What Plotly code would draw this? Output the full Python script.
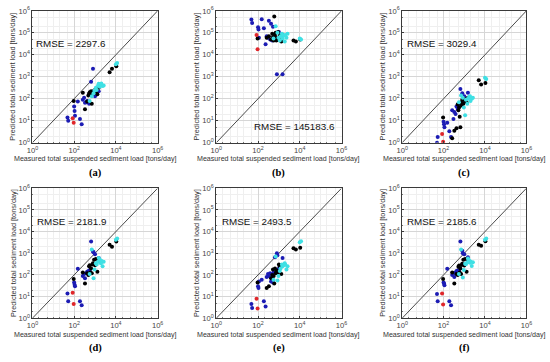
import plotly.graph_objects as go

# ---------------- data (tons/day) ----------------
panel_labels = ["(a)", "(b)", "(c)", "(d)", "(e)", "(f)"]
rmse_values = ["2297.6", "145183.6", "3029.4", "2181.9", "2493.5", "2185.6"]
x_tick_labels = ["10<sup>0</sup>", "10<sup>2</sup>", "10<sup>4</sup>", "10<sup>6</sup>"]
y_tick_labels = ["10<sup>0</sup>", "10<sup>1</sup>", "10<sup>2</sup>", "10<sup>3</sup>",
                 "10<sup>4</sup>", "10<sup>5</sup>", "10<sup>6</sup>"]

# measured loads (shared by all panels)
red_meas = [85, 95]
blue_meas = [48, 52, 100, 105, 110, 150, 190, 230, 260, 300, 330, 380, 420, 480, 520,
             560, 650, 800, 850, 1000, 1500]
black_meas = [95, 260, 330, 420, 480, 520, 560, 600, 650, 700, 750, 800, 900, 1000,
              1100, 1300, 1500, 5000, 6500, 10500]
cyan_meas = [550, 700, 850, 950, 1100, 1200, 1400, 1500, 1700, 1900, 2000, 2300, 2600,
             10000, 11500]

# predicted loads, panel (a)
red_a = [13, 8]
blue_a = [14, 10, 45, 28, 17, 75, 12, 7, 90, 110, 65, 70, 80, 70, 60, 150, 600, 2300, 180, 130, 220]
black_a = [80, 190, 33, 75, 140, 170, 200, 180, 220, 60, 190, 210, 230, 250, 200, 160, 320, 1600, 2300, 3000]
cyan_a = [80, 130, 180, 240, 320, 250, 400, 480, 350, 450, 500, 380, 400, 3700, 4200]

# panel (b)
red_b = [80000, 18000]
blue_b = [400000, 280000, 180000, 140000, 60000, 420000, 160000, 30000, 70000, 60000, 350000,
          50000, 260000, 45000, 190000, 60000, 60000, 1300, 50000, 110000, 1300]
black_b = [55000, 60000, 70000, 50000, 90000, 65000, 45000, 550000, 80000, 100000, 45000, 60000,
           110000, 50000, 75000, 40000, 80000, 45000, 40000, 50000]
cyan_b = [55000, 200000, 100000, 60000, 45000, 70000, 90000, 55000, 75000, 40000, 80000, 60000,
          90000, 55000, 50000]

# panel (c)
red_c = [2.5, 1.1]
blue_c = [1.0, 1.8, 9, 7, 5, 8, 3.3, 1.8, 30, 12, 25, 20, 45, 35, 60, 50, 280, 180, 80, 130, 190]
black_c = [14, 1.6, 3.5, 4.5, 55, 30, 40, 15, 5, 70, 50, 90, 60, 100, 80, 70, 110, 700, 450, 520]
cyan_c = [70, 140, 110, 40, 18, 90, 60, 100, 120, 130, 80, 100, 110, 900, 800]

# panel (d)
red_d = [15, 4.5]
blue_d = [14, 6, 45, 35, 30, 190, 6, 4, 90, 110, 70, 120, 140, 150, 110, 170, 3500, 1200, 1100, 900, 600]
black_d = [65, 130, 40, 120, 100, 250, 280, 130, 200, 120, 300, 350, 500, 280, 550, 140, 450, 2500, 2000, 3500]
cyan_d = [110, 1500, 70, 180, 350, 300, 400, 600, 500, 350, 450, 250, 400, 4200, 4800]

# panel (e)
red_e = [8, 2.8]
blue_e = [4.5, 3, 30, 25, 50, 60, 6, 3.5, 80, 110, 90, 120, 50, 80, 45, 130, 650, 1000, 800, 200, 600]
black_e = [45, 25, 30, 70, 100, 180, 90, 40, 200, 120, 150, 160, 130, 300, 250, 110, 280, 1700, 1500, 1800]
cyan_e = [60, 700, 55, 90, 150, 200, 300, 250, 280, 350, 300, 180, 250, 3200, 3600]

# panel (f)
red_f = [14, 4.3]
blue_f = [13, 6, 45, 40, 33, 190, 6, 4, 100, 120, 80, 130, 150, 160, 120, 170, 3500, 1300, 1000, 900, 650]
black_f = [65, 130, 40, 110, 100, 240, 270, 130, 200, 110, 290, 330, 500, 270, 540, 140, 420, 2500, 2200, 3600]
cyan_f = [110, 1500, 75, 170, 330, 310, 380, 580, 480, 360, 420, 260, 380, 4200, 4800]

panels_pred = [
    (red_a, blue_a, black_a, cyan_a),
    (red_b, blue_b, black_b, cyan_b),
    (red_c, blue_c, black_c, cyan_c),
    (red_d, blue_d, black_d, cyan_d),
    (red_e, blue_e, black_e, cyan_e),
    (red_f, blue_f, black_f, cyan_f),
]
line_ends = [1, 1e6]

# ---------------- layout geometry (pixels) ----------------
W, H = 550, 362
cols_px = [(27, 155), (215, 343), (405, 532)]
rows_px = [(5, 141), (188, 322)]
rmse_pos = [(29, 39, "left"), (338, 124, "right"), (408, 39, "left"),
            (30, 222, "left"), (219, 222, "left"), (408, 222, "left")]

colors = {"blue": "#1c1cb4", "black": "#000000", "cyan": "#3fe0e4", "red": "#e0262a"}
order = ["blue", "black", "cyan", "red"]
meas = {"red": red_meas, "blue": blue_meas, "black": black_meas, "cyan": cyan_meas}
sans = "Liberation Sans, Arial"

fig = go.Figure()
annotations = []
for i in range(6):
    r, c = divmod(i, 3)
    x0, x1 = cols_px[c]
    y0, y1 = rows_px[r]
    ax = "" if i == 0 else str(i + 1)
    xa, ya = "x" + ax, "y" + ax
    # 1:1 line
    fig.add_trace(go.Scatter(x=line_ends, y=line_ends, mode="lines",
                             line=dict(color="#4a4a4a", width=1),
                             xaxis=xa, yaxis=ya, showlegend=False, hoverinfo="skip"))
    red, blue, black, cyan = panels_pred[i]
    preds = {"red": red, "blue": blue, "black": black, "cyan": cyan}
    for k in order:
        fig.add_trace(go.Scatter(x=meas[k], y=preds[k], mode="markers",
                                 marker=dict(color=colors[k], size=4, line=dict(width=0)),
                                 xaxis=xa, yaxis=ya, showlegend=False))
    common = dict(type="log", range=[0, 6], showline=True, mirror=True, linecolor="#3a3a3a",
                  linewidth=1, showgrid=True, gridcolor="#d6d6d6", gridwidth=1,
                  ticks="inside", ticklen=2, tickcolor="#3a3a3a", zeroline=False,
                  tickfont=dict(family=sans, size=7.6, color="#444444"),
                  minor=dict(showgrid=True, gridcolor="#efefef", gridwidth=1,
                             ticks="inside", ticklen=1, tickcolor="#777777"),
                  fixedrange=True)
    fig.layout[("xaxis" + ax)] = dict(common, domain=[x0 / W, x1 / W], anchor=ya,
                                      tickvals=[1, 1e2, 1e4, 1e6], ticktext=x_tick_labels)
    fig.layout[("yaxis" + ax)] = dict(common, domain=[1 - y1 / H, 1 - y0 / H], anchor=xa,
                                      tickvals=[1, 10, 1e2, 1e3, 1e4, 1e5, 1e6], ticktext=y_tick_labels)
    cx = (x0 + x1) / 2
    cy = (y0 + y1) / 2
    # axis titles
    annotations.append(dict(text="Measured total suspended sediment load [tons/day]",
                            x=cx / W, y=1 - (y1 + 17) / H, xref="paper", yref="paper",
                            xanchor="center", yanchor="middle", showarrow=False,
                            font=dict(family=sans, size=7.1, color="#333333")))
    annotations.append(dict(text="Predicted total sediment load [tons/day]",
                            x=(x0 - 20) / W, y=1 - cy / H, xref="paper", yref="paper",
                            xanchor="center", yanchor="middle", showarrow=False, textangle=-90,
                            font=dict(family=sans, size=7.3, color="#333333")))
    annotations.append(dict(text="<b>" + panel_labels[i] + "</b>",
                            x=cx / W, y=1 - (y1 + 31) / H, xref="paper", yref="paper",
                            xanchor="center", yanchor="middle", showarrow=False,
                            font=dict(family="Liberation Serif, Times New Roman", size=10.5, color="#000000")))
    rx, ry, anc = rmse_pos[i]
    annotations.append(dict(text="RMSE = " + rmse_values[i],
                            x=rx / W, y=1 - ry / H, xref="paper", yref="paper",
                            xanchor=anc, yanchor="middle", showarrow=False,
                            font=dict(family=sans, size=9.8, color="#111111")))

fig.update_layout(width=W, height=H, margin=dict(l=0, r=0, t=0, b=0),
                  paper_bgcolor="white", plot_bgcolor="white",
                  annotations=annotations, showlegend=False)
fig.write_html("out.html", config={"displayModeBar": False},
               post_script="document.body.style.margin='0';")
